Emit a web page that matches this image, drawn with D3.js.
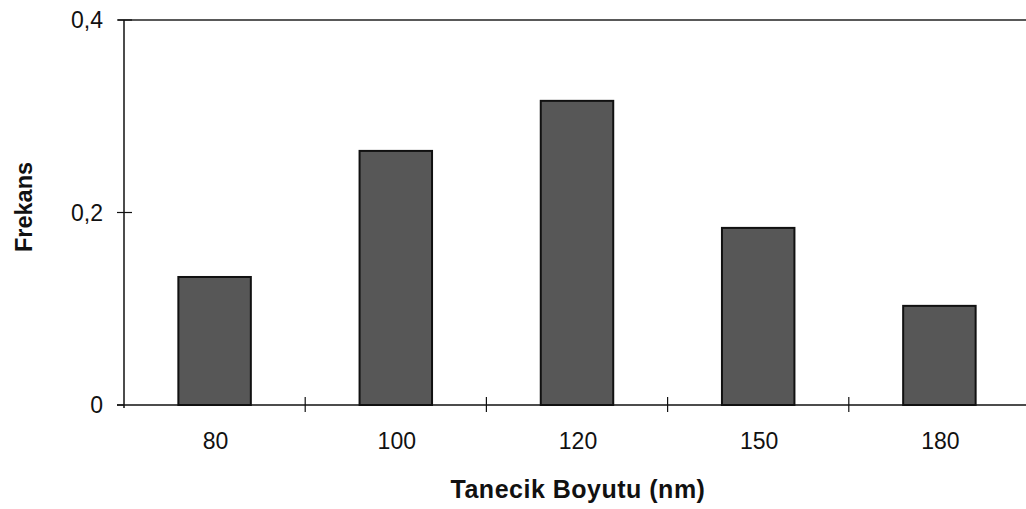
<!DOCTYPE html>
<html>
<head>
<meta charset="utf-8">
<script src="https://cdn.jsdelivr.net/npm/d3@7"></script>
<style>
  html, body { margin: 0; padding: 0; background: #fff; }
  svg { display: block; }
  text { font-family: "Liberation Sans", Arial, sans-serif; fill: #111; }
</style>
</head>
<body>
<svg id="chart" width="1026" height="509"></svg>
<script>
// Particle size distribution
const categories = ["80", "100", "120", "150", "180"];
const frequencies = [0.133, 0.264, 0.316, 0.184, 0.103];
const yTicks = [0, 0.2, 0.4];
const yTickLabels = ["0", "0,2", "0,4"];

const svg = d3.select("#chart");
const margin = { left: 124, top: 20, right: -4, bottom: 104 };
const W = 1026, H = 509;
const plotRight = W - margin.right;
const plotBottom = H - margin.bottom;

const x = d3.scaleBand()
  .domain(categories)
  .range([margin.left, plotRight])
  .paddingInner(0.6)
  .paddingOuter(0.3);

const y = d3.scaleLinear().domain([0, 0.4]).range([plotBottom, margin.top]);

// top border of the plot area
svg.append("line")
  .attr("x1", 118).attr("x2", plotRight)
  .attr("y1", y(0.4)).attr("y2", y(0.4))
  .attr("stroke", "#222").attr("stroke-width", 1.5);

// bars
svg.append("g").selectAll("rect")
  .data(categories)
  .join("rect")
  .attr("x", (d) => x(d))
  .attr("width", x.bandwidth())
  .attr("y", (d, i) => y(frequencies[i]))
  .attr("height", (d, i) => y(0) - y(frequencies[i]))
  .attr("fill", "#575757")
  .attr("stroke", "#111")
  .attr("stroke-width", 2);

// y axis
const yAxis = svg.append("g").attr("transform", `translate(${margin.left},0)`);
yAxis.append("line")
  .attr("x1", 0).attr("x2", 0)
  .attr("y1", y(0.4)).attr("y2", y(0) + 3)
  .attr("stroke", "#111").attr("stroke-width", 1.5);
yAxis.selectAll("line.tick")
  .data(yTicks)
  .join("line")
  .attr("class", "tick")
  .attr("x1", -7).attr("x2", (d) => d === 0 ? 0 : 8)
  .attr("y1", (d) => y(d)).attr("y2", (d) => y(d))
  .attr("stroke", "#111").attr("stroke-width", 1.2);
yAxis.selectAll("text")
  .data(yTicks)
  .join("text")
  .attr("x", -21)
  .attr("y", (d) => y(d))
  .attr("dy", "0.35em")
  .attr("text-anchor", "end")
  .attr("font-size", 23)
  .text((d, i) => yTickLabels[i]);

// x axis
const xAxis = svg.append("g");
xAxis.append("line")
  .attr("x1", 117).attr("x2", plotRight)
  .attr("y1", y(0)).attr("y2", y(0))
  .attr("stroke", "#111").attr("stroke-width", 1.5);
const step = x.step();
const boundaries = categories.slice(1).map((c) => x(c) - (step - x.bandwidth()) / 2);
xAxis.selectAll("line.tick")
  .data(boundaries)
  .join("line")
  .attr("class", "tick")
  .attr("x1", (d) => d).attr("x2", (d) => d)
  .attr("y1", y(0) - 8).attr("y2", y(0) + 7)
  .attr("stroke", "#111").attr("stroke-width", 1.2);
xAxis.selectAll("text")
  .data(categories)
  .join("text")
  .attr("x", (d) => x(d) + x.bandwidth() / 2 + 1)
  .attr("y", 449)
  .attr("text-anchor", "middle")
  .attr("font-size", 23)
  .text((d) => d);

// axis titles
svg.append("text")
  .attr("x", 578)
  .attr("y", 498)
  .attr("text-anchor", "middle")
  .attr("font-size", 25)
  .attr("font-weight", "bold")
  .attr("letter-spacing", 0.5)
  .text("Tanecik Boyutu (nm)");

svg.append("text")
  .attr("transform", `translate(32,207) rotate(-90)`)
  .attr("text-anchor", "middle")
  .attr("font-size", 23.5)
  .attr("font-weight", "bold")
  .text("Frekans");
</script>
</body>
</html>
